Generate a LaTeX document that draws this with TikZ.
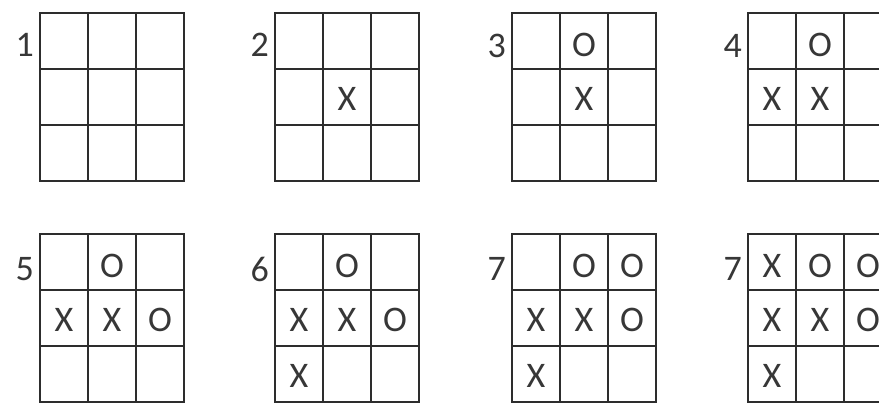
\documentclass[tikz,border=0pt]{standalone}
\usepackage{fontspec}
\setmainfont{Carlito}
\usetikzlibrary{positioning}
\definecolor{gridgray}{RGB}{45, 45, 45}
\definecolor{markgray}{RGB}{55, 55, 55}
\colorlet{boardline}{gridgray}
\colorlet{marktext}{markgray}
\tikzset{
    board/.pic={
        % Outer frame
        \draw[draw=boardline, line width=1.7pt] (0,0) rectangle (144,168);
        % Column lines
        \draw[draw=boardline, line width=1.5pt] (48,0) -- (48,168);
        \draw[draw=boardline, line width=1.5pt] (96,0) -- (96,168);
        % Row lines
        \draw[draw=boardline, line width=1.5pt] (0,56) -- (144,56);
        \draw[draw=boardline, line width=1.5pt] (0,112) -- (144,112);
    }
}

\begin{document}
\begin{tikzpicture}[
    x=1pt, y=-1pt,
    % Mark styles
    markcell/.style={
        text=marktext,
        inner sep=0pt,
        font=\fontsize{36}{42}\selectfont
    },
    boardlabel/.style={
        text=marktext,
        anchor=east,
        inner sep=0pt,
        font=\fontsize{36}{42}\selectfont
    }
]
    \useasboundingbox (0,0) rectangle (879,403);
    \clip (0,0) rectangle (879,403);

    % =========================================================================
    % 1. TOP ROW (moves 1 to 4)
    % =========================================================================
    % Board 1: empty
    \pic at (40,13) {board};
    \node[boardlabel] (lab1) at (34,45) {1};

    % Board 2: X in the centre
    \pic at (275,13) {board};
    \node[boardlabel] (lab2) at (269,45) {2};
    \node[markcell] (b2r2c2) at (347,99) {X};

    % Board 3
    \pic at (512,13) {board};
    \node[boardlabel] (lab3) at (506,46) {3};
    \node[markcell] (b3r1c2) at (584,45) {O};
    \node[markcell] (b3r2c2) at (584,99) {X};

    % Board 4 (cut at the right edge)
    \pic at (748,13) {board};
    \node[boardlabel] (lab4) at (742,46) {4};
    \node[markcell] (b4r1c2) at (820,45) {O};
    \node[markcell] (b4r2c1) at (772,99) {X};
    \node[markcell] (b4r2c2) at (820,99) {X};

    % =========================================================================
    % 2. BOTTOM ROW (moves 5 to 7)
    % =========================================================================
    % Board 5
    \pic at (40,234) {board};
    \node[boardlabel] (lab5) at (34,269) {5};
    \node[markcell] (b5r1c2) at (112,266) {O};
    \node[markcell] (b5r2c1) at (64,320) {X};
    \node[markcell] (b5r2c2) at (112,320) {X};
    \node[markcell] (b5r2c3) at (160,320) {O};

    % Board 6
    \pic at (275,234) {board};
    \node[boardlabel] (lab6) at (269,269) {6};
    \node[markcell] (b6r1c2) at (347,266) {O};
    \node[markcell] (b6r2c1) at (299,320) {X};
    \node[markcell] (b6r2c2) at (347,320) {X};
    \node[markcell] (b6r2c3) at (395,320) {O};
    \node[markcell] (b6r3c1) at (299,376) {X};

    % Board 7
    \pic at (512,234) {board};
    \node[boardlabel] (lab7) at (506,269) {7};
    \node[markcell] (b7r1c2) at (584,266) {O};
    \node[markcell] (b7r1c3) at (632,266) {O};
    \node[markcell] (b7r2c1) at (536,320) {X};
    \node[markcell] (b7r2c2) at (584,320) {X};
    \node[markcell] (b7r2c3) at (632,320) {O};
    \node[markcell] (b7r3c1) at (536,376) {X};

    % Board 8 (also labelled 7, cut at the right edge)
    \pic at (748,234) {board};
    \node[boardlabel] (lab8) at (742,269) {7};
    \node[markcell] (b8r1c1) at (772,266) {X};
    \node[markcell] (b8r1c2) at (820,266) {O};
    \node[markcell] (b8r1c3) at (868,266) {O};
    \node[markcell] (b8r2c1) at (772,320) {X};
    \node[markcell] (b8r2c2) at (820,320) {X};
    \node[markcell] (b8r2c3) at (868,320) {O};
    \node[markcell] (b8r3c1) at (772,376) {X};

\end{tikzpicture}
\end{document}
